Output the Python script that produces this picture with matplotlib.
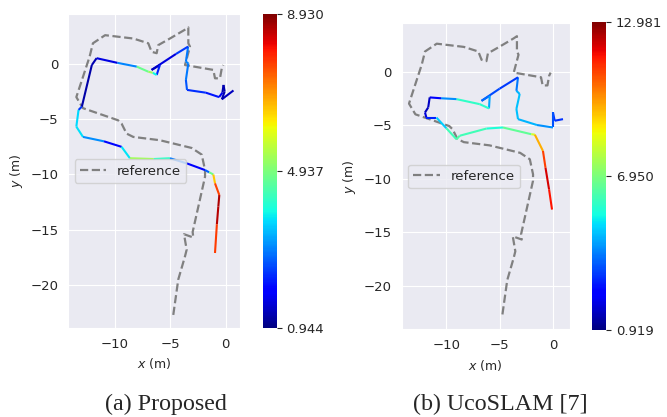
import numpy as np
import matplotlib
matplotlib.use("Agg")
import matplotlib.pyplot as plt
import seaborn as sns
from matplotlib.collections import LineCollection
from matplotlib.cm import ScalarMappable
from matplotlib.colors import Normalize

# trajectoire de reference (verite terrain)
ref_x = [-4.74, -4.29, -3.68, -3.53, -3.77, -2.93, -2.99, -1.87, -1.87, -2.17, -3.08, -5.95,
         -8.36, -8.96, -9.41, -9.72, -12.9, -13.5, -12.3, -12.0, -10.9, -8.36, -7.0, -6.7,
         -6.24, -6.1, -5.04, -3.68, -3.38, -3.38, -3.23, -3.68, -1.12, -0.97, -0.52, -0.36, -0.22]
ref_y = [-22.7, -19.5, -17.4, -16.8, -15.4, -15.7, -15.2, -10.2, -9.6, -8.2, -7.6, -6.9,
         -6.6, -6.3, -5.4, -5.1, -4.0, -3.0, 0.66, 1.87, 2.6, 2.3, 1.87, 1.1,
         0.97, 1.7, 2.3, 3.1, 3.3, 1.87, 1.57, -0.1, -0.54, -1.3, -1.3, -0.4, -0.1]

# (a) Proposed : trajectoire estimee + erreur (m)
prop_x = [0.7, -0.35, -0.1, -0.2, -0.3, -0.6, -1.8, -3.5, -3.6, -3.38, -3.6, -3.4, -4.5, -6.7,
          -5.95, -6.24, -6.6, -7.0, -8.05, -9.8, -11.67, -12.1, -13.0, -13.3, -13.5, -12.9,
          -11.0, -9.41, -8.66, -6.5, -5.04, -3.5, -1.87, -1.5, -1.12, -0.97, -0.58, -0.67,
          -0.8, -0.97]
prop_y = [-2.4, -3.2, -2.5, -1.9, -2.6, -3.0, -2.6, -2.35, -1.45, 0.06, 0.2, 1.57, 0.9, -0.54,
          -0.1, -1.0, -0.8, -0.7, -0.24, 0.1, 0.52, -0.1, -3.86, -4.16, -5.67, -6.6,
          -7.0, -7.5, -8.53, -8.6, -8.53, -9.0, -9.6, -9.8, -10.0, -10.8, -11.86, -12.9,
          -14.5, -17.1]
prop_err = [1.5, 1.3, 1.3, 1.2, 1.4, 2.0, 2.2, 2.4, 2.8, 3.0, 3.0, 2.8, 2.0, 1.2,
            1.6, 2.8, 5.0, 5.5, 4.0, 2.0, 1.3, 1.3, 1.2, 3.5, 3.8, 3.6,
            2.5, 1.5, 6.0, 4.6, 3.8, 2.0, 1.8, 3.6, 6.0, 7.0, 8.3, 8.9,
            8.2, 7.2]
prop_lim = [0.944, 8.930]

# (b) UcoSLAM
uco_x = [0.94, 0.16, 0.0, 0.0, -1.5, -3.28, -3.43, -3.12, -3.43, -3.28, -5.0, -6.7, -5.93,
         -6.0, -6.87, -9.05, -10.5, -11.56, -11.7, -12.0, -11.87, -10.93, -10.0, -9.05,
         -8.74, -6.24, -4.69, -2.03, -1.7, -0.94, -0.7, -0.37, -0.09]
uco_y = [-4.45, -4.6, -3.83, -5.23, -5.0, -4.45, -3.5, -2.1, -1.8, -0.54, -1.6, -2.74, -2.27,
         -3.45, -3.05, -2.58, -2.5, -2.42, -3.36, -3.83, -4.3, -4.3, -5.3, -6.33,
         -6.0, -5.33, -5.23, -5.86, -5.9, -7.42, -9.0, -11.0, -12.9]
uco_err = [3.0, 3.0, 3.0, 3.8, 4.5, 4.6, 4.8, 4.6, 4.5, 3.2, 3.0, 3.6, 3.8,
           5.0, 6.5, 5.2, 3.0, 1.8, 1.5, 1.6, 2.2, 3.5, 6.2, 6.0,
           6.6, 5.6, 5.6, 7.5, 9.0, 10.3, 11.8, 12.3, 11.0]
uco_lim = [0.919, 12.981]

sns.set_style("darkgrid")
plt.rcParams["font.size"] = 9.5

fig = plt.figure(figsize=(6.67, 4.17), dpi=100)


def trace(ax_pos, cb_pos, x, y, err, lim, xlim, ylim, legende, x_legende):
    ax = fig.add_axes(ax_pos)
    cax = fig.add_axes(cb_pos)
    ax.plot(ref_x, ref_y, "--", color="gray", lw=1.6, label="reference")
    pts = np.column_stack([x, y])
    segs = np.stack([pts[:-1], pts[1:]], axis=1)
    val = (np.array(err[:-1]) + np.array(err[1:])) / 2
    norm = Normalize(vmin=lim[0], vmax=lim[1])
    lc = LineCollection(segs, cmap="jet", norm=norm, lw=1.5)
    lc.set_array(val)
    ax.add_collection(lc)
    ax.set_xlim(xlim)
    ax.set_ylim(ylim)
    ax.set_xticks([-10, -5, 0])
    ax.set_yticks([0, -5, -10, -15, -20])
    ax.set_xlabel("$x$ (m)", fontsize=9)
    ax.set_ylabel("$y$ (m)", fontsize=9)
    ax.legend(loc="center left", fontsize=9.5)
    sm = ScalarMappable(norm=norm, cmap="jet")
    cb = fig.colorbar(sm, cax=cax, ticks=[lim[0], (lim[0] + lim[1]) / 2, lim[1]], format="%.3f")
    cb.outline.set_visible(False)
    # legende de la sous-figure
    fig.text(x_legende, 0.017, legende, family="Liberation Serif", fontsize=17.3,
             ha="center", va="baseline")
    return ax


trace([0.102, 0.213, 0.258, 0.753], [0.394, 0.213, 0.021, 0.753],
      prop_x, prop_y, prop_err, prop_lim, (-14.25, 1.3), (-23.9, 4.5), "(a) Proposed", 0.249)
trace([0.602, 0.210, 0.252, 0.734], [0.8876, 0.2086, 0.021, 0.7386],
      uco_x, uco_y, uco_err, uco_lim, (-14.2, 1.56), (-24.1, 4.5), "(b) UcoSLAM [7]", 0.75)

fig.savefig("out.png", dpi=100)
